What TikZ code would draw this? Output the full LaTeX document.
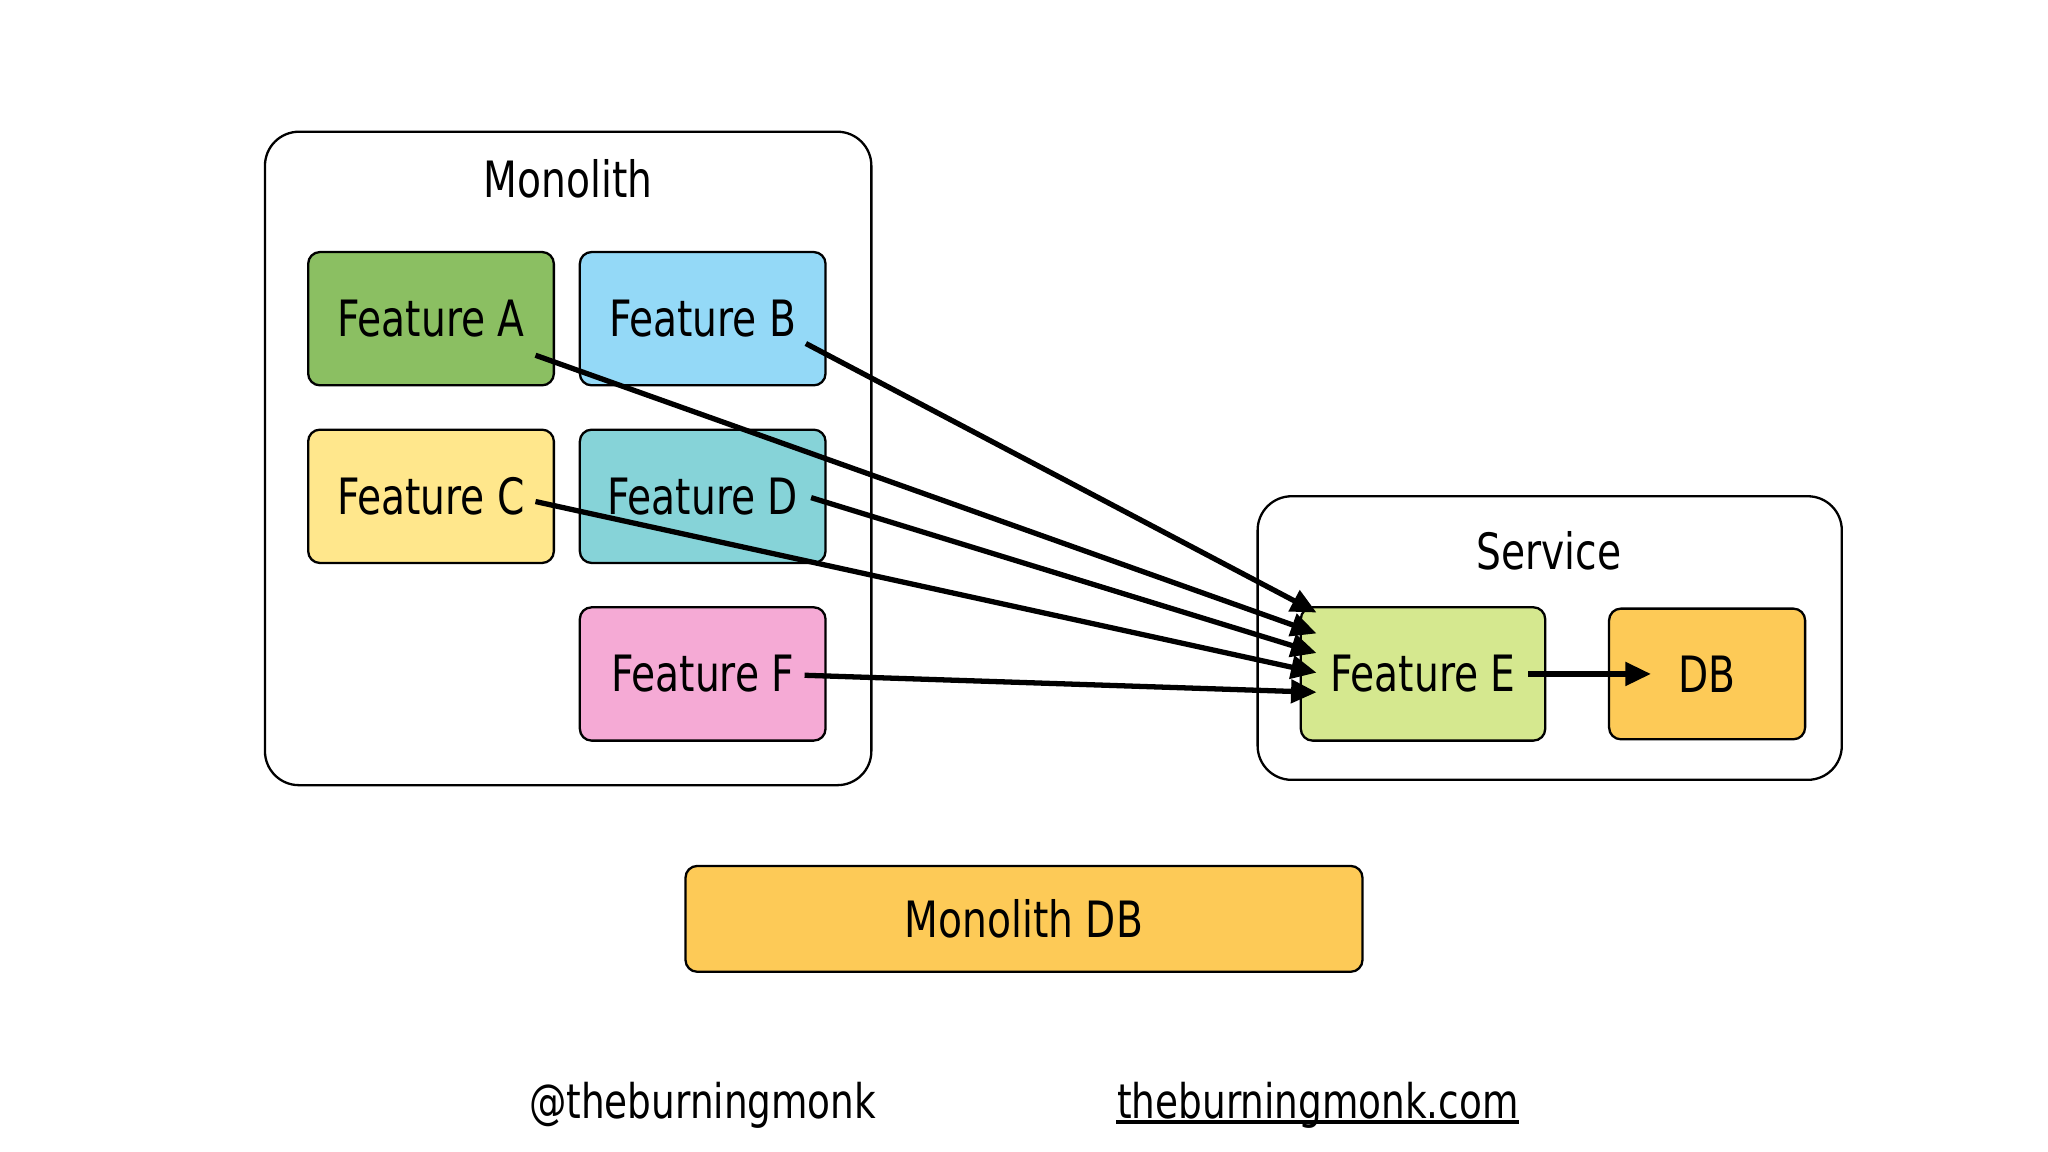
\documentclass[tikz,border=0pt]{standalone}
\usepackage{fontspec}
\setmainfont{DejaVu Sans Condensed}[FakeStretch=0.87]
\usetikzlibrary{arrows.meta,positioning}
\definecolor{cA}{HTML}{8BBF62}
\definecolor{cB}{HTML}{94D9F7}
\definecolor{cC}{HTML}{FFE78C}
\definecolor{cD}{HTML}{86D3D8}
\definecolor{cF}{HTML}{F5AAD5}
\definecolor{cE}{HTML}{D5E88F}
\definecolor{cDB}{HTML}{FDCA57}
\begin{document}
\begin{tikzpicture}[x=0.01cm,y=-0.01cm,
  every node/.style={font=\fontsize{10.9}{13}\selectfont, inner sep=0pt},
  feat/.style={draw=black, line width=0.5pt, rounded corners=0.09cm, minimum width=1.88cm, minimum height=1.02cm},
  cont/.style={draw=black, line width=0.5pt, rounded corners=0.26cm},
  conn/.style={line width=1.15pt, -{Triangle[length=1.95mm,width=1.75mm]}},
  foot/.style={font=\fontsize{10.4}{12}\selectfont, anchor=base}
]
\useasboundingbox[fill=white] (0,0) rectangle (1568,882);
% containers
\node[cont, minimum width=4.64cm, minimum height=5.00cm] (mono) at (435,351) {};
\node (monot) at (435,137) {Monolith};
\node[cont, minimum width=4.47cm, minimum height=2.17cm] (serv) at (1186.5,488.5) {};
\node (servt) at (1186,422) {Service};
% features
\node[feat, fill=cA] (fa) at (330,244) {Feature A};
\node[feat, fill=cB] (fb) at (538,244) {Feature B};
\node[feat, fill=cC] (fc) at (330,380) {Feature C};
\node[feat, fill=cD] (fd) at (538,380) {Feature D};
\node[feat, fill=cF] (ff) at (538,516) {Feature F};
\node[feat, fill=cE, minimum width=1.87cm] (fe) at (1089.5,516) {Feature E};
\node[feat, fill=cDB, minimum width=1.50cm, minimum height=1.00cm] (db) at (1307,516) {DB};
\node[feat, fill=cDB, minimum width=5.18cm, minimum height=0.81cm] (mdb) at (784,703.5) {Monolith DB};
% connector end points
\coordinate (as) at (410,272);
\coordinate (bs) at (617,263);
\coordinate (cs) at (410,384);
\coordinate (ds) at (621,381);
\coordinate (fs) at (616,517);
\coordinate (bt) at (1008,469);
\coordinate (at) at (1008,485);
\coordinate (dt) at (1008,500);
\coordinate (ct) at (1008,515);
\coordinate (ft) at (1008,530);
\coordinate (es) at (1170,516);
\coordinate (dbt) at (1264,516);
\draw[conn] (as) -- (at);
\draw[conn] (bs) -- (bt);
\draw[conn] (cs) -- (ct);
\draw[conn] (ds) -- (dt);
\draw[conn] (fs) -- (ft);
\draw[conn] (es) -- (dbt);
% footer
\node[foot] (tw) at (538,856) {@theburningmonk};
\node[foot] (web) at (1009,856) {theburningmonk.com};
\draw[line width=0.75pt] ([yshift=-0.9pt]web.base west) -- ([yshift=-0.9pt]web.base east);
\end{tikzpicture}
\end{document}
